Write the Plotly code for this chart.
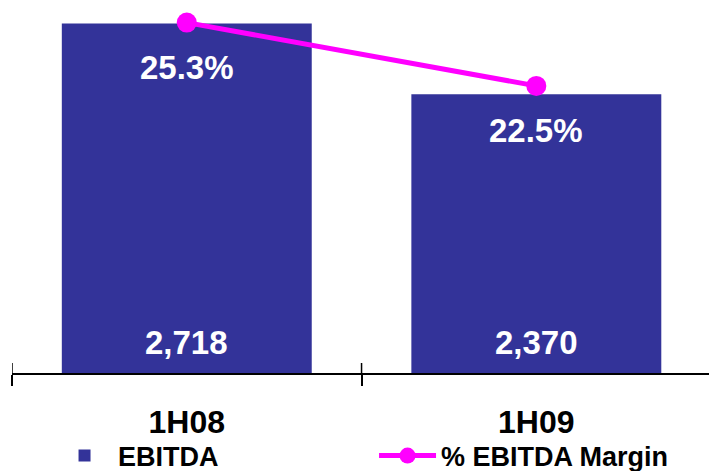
import plotly.graph_objects as go

# Half-year EBITDA and EBITDA margin
periods = ["1H08", "1H09"]
ebitda = [2718, 2370]
margin_pct = [25.3, 22.5]

BAR_COLOR = "#333399"
LINE_COLOR = "#FF00FF"
FONT = "Liberation Sans, Arial, sans-serif"
Y_RANGE = [1000, 2834]

fig = go.Figure()

fig.add_trace(go.Bar(
    x=periods, y=ebitda, name="EBITDA",
    marker=dict(color=BAR_COLOR, line=dict(width=0)),
    yaxis="y",
))

fig.add_trace(go.Scatter(
    x=periods, y=margin_pct, name="% EBITDA Margin",
    mode="lines+markers",
    line=dict(color=LINE_COLOR, width=5),
    marker=dict(color=LINE_COLOR, size=20),
    yaxis="y2",
))

annotations = []
for p, v in zip(periods, ebitda):
    annotations.append(dict(
        x=p, y=Y_RANGE[0], xref="x", yref="y", text=f"{v:,}",
        showarrow=False, yanchor="middle", yshift=31,
        font=dict(family=FONT, size=33, color="white", weight="bold"),
    ))
for p, m in zip(periods, margin_pct):
    annotations.append(dict(
        x=p, y=m, xref="x", yref="y2", text=f"{m:.1f}%",
        showarrow=False, yanchor="middle", yshift=-45,
        font=dict(family=FONT, size=33, color="white", weight="bold"),
    ))

# upward half of the category-boundary ticks (the axis draws the downward half)
shapes = []
for i in range(len(periods) + 1):
    shapes.append(dict(
        type="line", xref="x", yref="y", ysizemode="pixel", yanchor=Y_RANGE[0],
        x0=i - 0.5, x1=i - 0.5, y0=0, y1=10,
        line=dict(color="black", width=1.5),
    ))

fig.update_layout(
    width=709, height=471,
    margin=dict(l=12, r=0, t=0, b=98, autoexpand=False),
    paper_bgcolor="white", plot_bgcolor="white",
    font=dict(family=FONT, color="black", weight="bold"),
    bargap=0.285,
    showlegend=True,
    legend=dict(
        orientation="h", x=0.056, xanchor="left", y=-0.157, yanchor="top",
        font=dict(family=FONT, size=27, color="black", weight="bold"),
        itemwidth=57, entrywidth=251, bgcolor="rgba(0,0,0,0)",
        traceorder="normal",
    ),
    xaxis=dict(
        type="category", range=[-0.5, 1.494],
        showline=True, linecolor="black", linewidth=1.5,
        ticks="outside", ticklen=11, tickwidth=1.5, tickcolor="black",
        tickson="boundaries", showgrid=False, zeroline=False,
        tickfont=dict(family=FONT, size=32, color="black", weight="bold"),
        ticklabelstandoff=20,
    ),
    yaxis=dict(range=Y_RANGE, visible=False, showgrid=False),
    yaxis2=dict(range=[9.80, 26.30], overlaying="y", side="right",
                visible=False, showgrid=False),
    shapes=shapes,
    annotations=annotations,
)

fig.write_html("out.html")
